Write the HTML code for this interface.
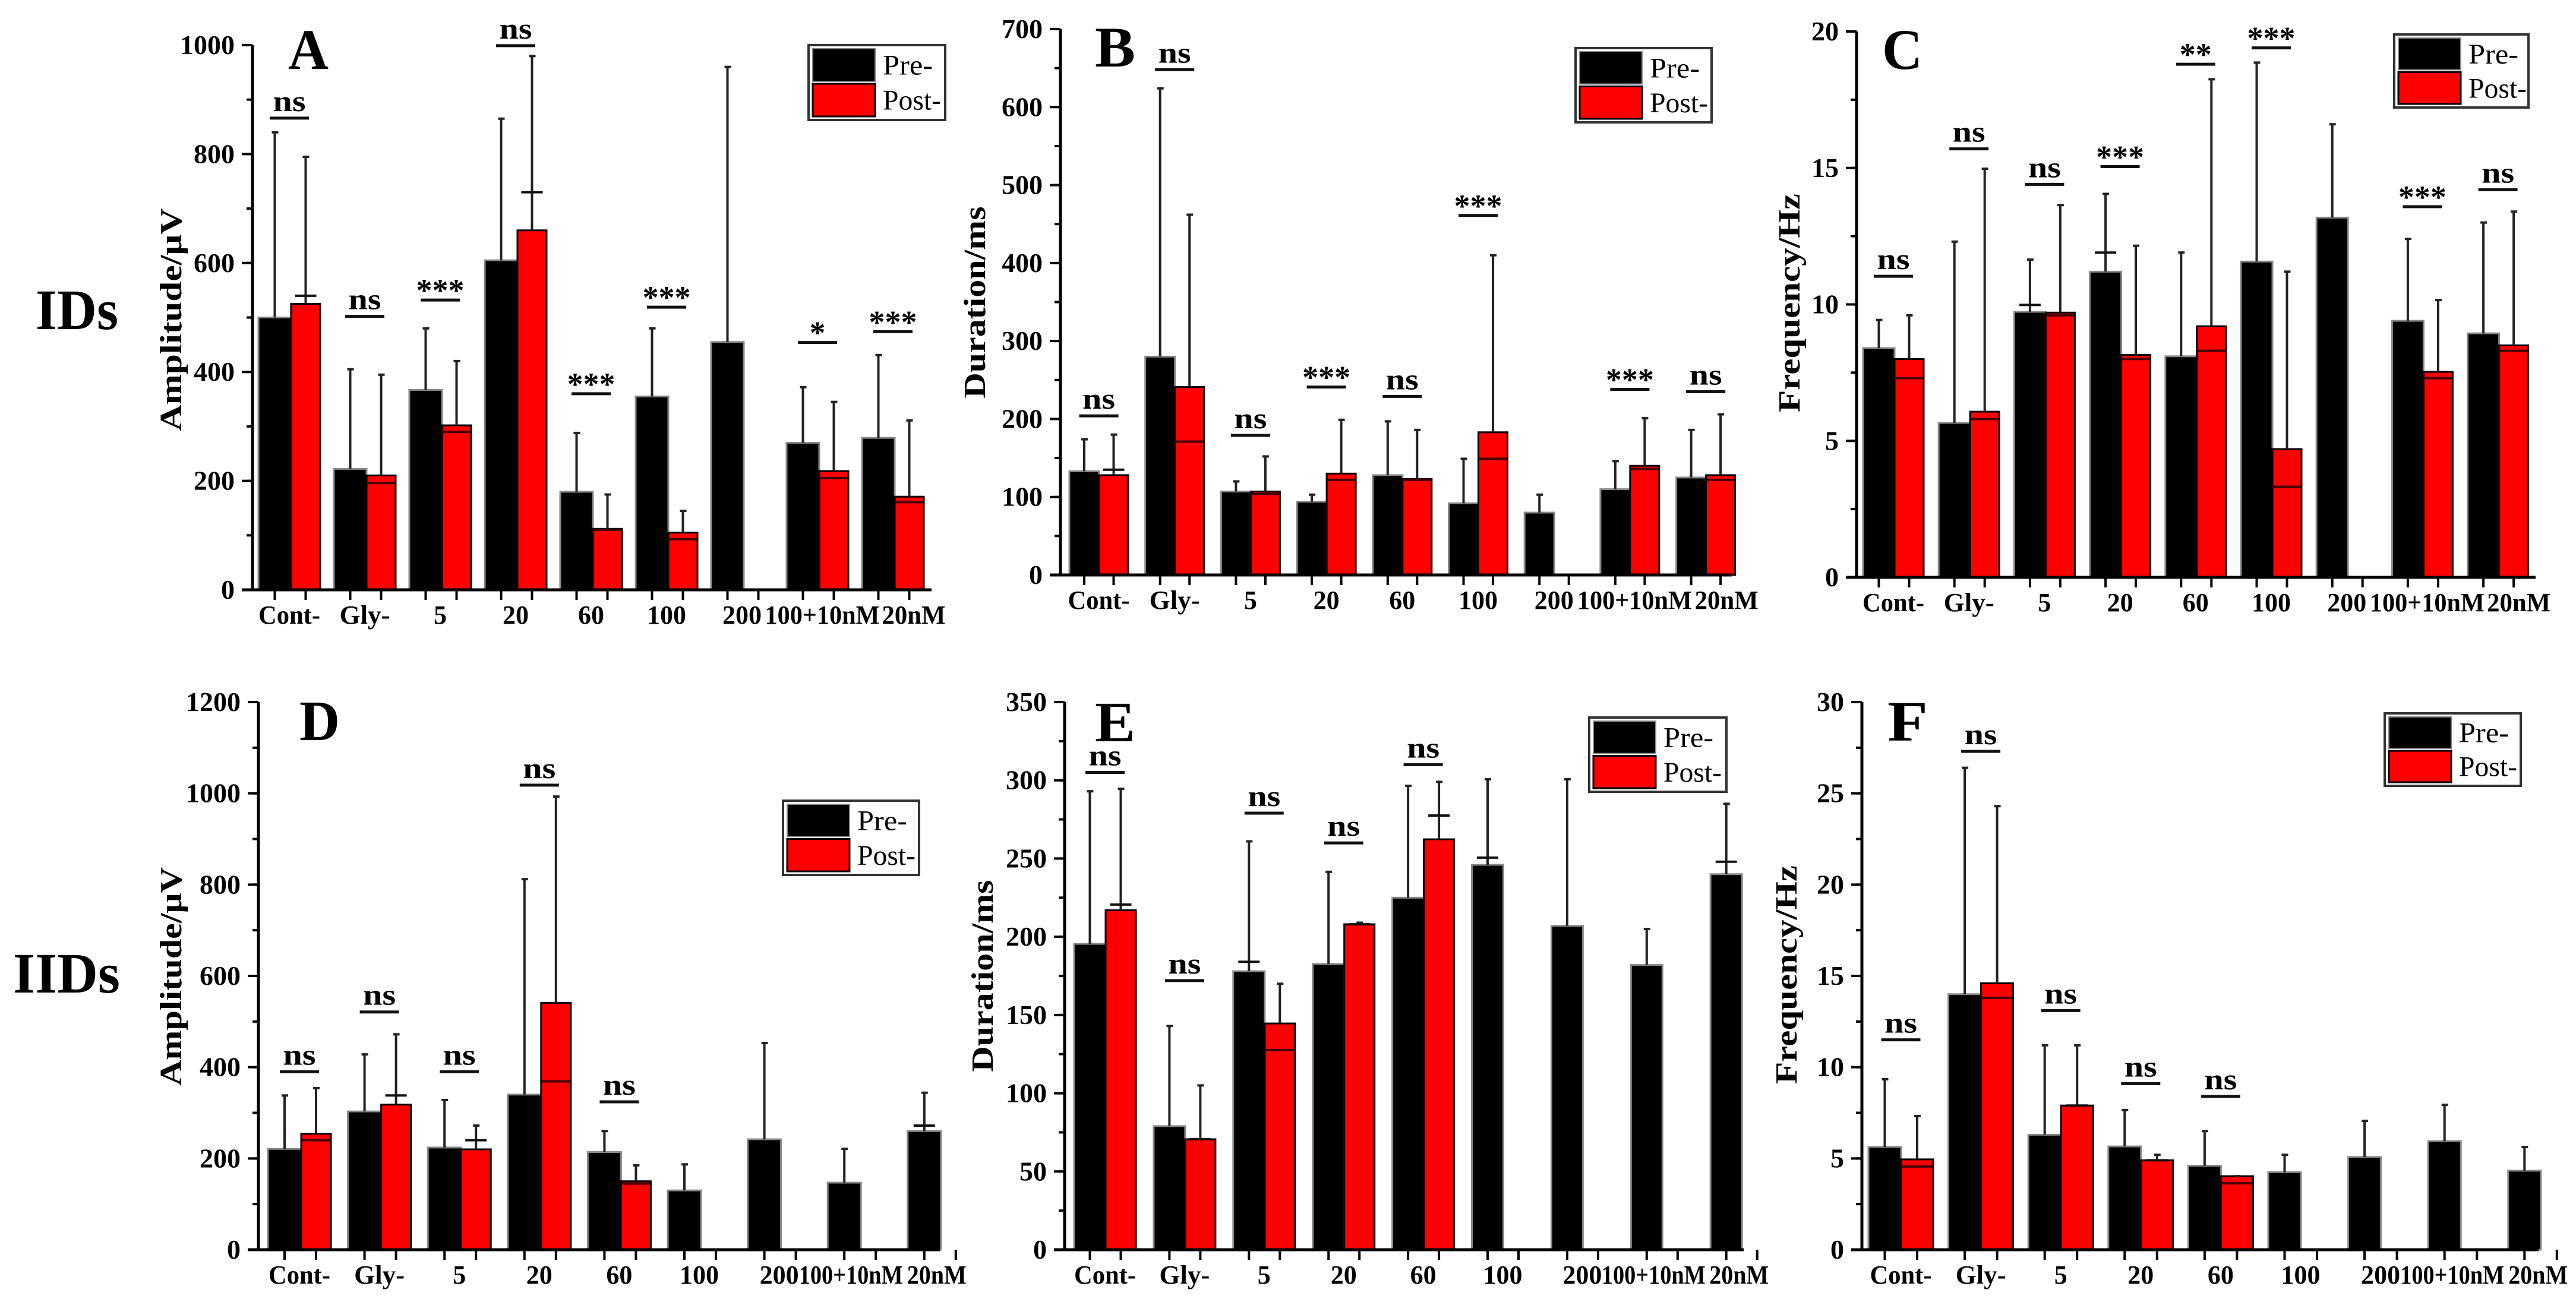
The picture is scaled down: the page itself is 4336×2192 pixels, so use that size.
<!DOCTYPE html>
<html><head><meta charset="utf-8">
<style>
html,body{margin:0;padding:0;background:#fff;}
svg{display:block;}
text{font-family:"Liberation Serif","Times New Roman",serif;font-weight:bold;fill:#000;}
</style></head>
<body>
<svg id="fig" width="4336" height="2192" viewBox="0 0 4336 2192" xmlns="http://www.w3.org/2000/svg">
<text x="60" y="554" font-size="96" textLength="139" lengthAdjust="spacingAndGlyphs">IDs</text>
<text x="22" y="1671" font-size="96" textLength="180" lengthAdjust="spacingAndGlyphs">IIDs</text>
</svg>
<script>
const categories = ["Cont-","Gly-","5","20","60","100","200","100+10nM","20nM"];

// Panel A: Amplitude IDs
const preA = [500,222,367,605,180,355,455,270,279];
const preErrA = [840,405,480,865,288,480,960,372,431];
const postA = [525,210,302,660,112,105,null,218,171];
const postErrA = [795,395,420,980,175,145,null,345,311];
const postMarkA = [540,196,290,730,110,93,null,205,161];
const preMarkA = [null,null,null,null,null,null,null,null,null];
const sigA = ["ns","ns","***","ns","***","***","","*","***"];
const sigYA = [866,502,532,999,360,519,null,454,474];
const ticksA = [0,200,400,600,800,1000];

// Panel B: Duration IDs
const preB = [133,280,107,94,128,92,80,110,125];
const preErrB = [174,624,120,103,197,149,103,146,186];
const postB = [128,241,107,130,123,183,null,140,128];
const postErrB = [180,462,152,199,186,410,null,201,206];
const postMarkB = [135,171,104,122,122,149,null,136,122];
const preMarkB = [null,null,null,null,null,null,null,null,null];
const sigB = ["ns","ns","ns","***","ns","***","","***","ns"];
const sigYB = [204,648,179,241,229,461,null,238,235];
const ticksB = [0,100,200,300,400,500,600,700];

// Panel C: Frequency IDs
const preC = [8.4,5.66,9.73,11.2,8.1,11.57,13.18,9.4,8.94];
const preErrC = [9.43,12.3,11.64,14.05,11.9,18.86,16.6,12.4,13.0];
const postC = [8.0,6.07,9.7,8.15,9.2,4.7,null,7.53,8.5];
const postErrC = [9.6,14.97,13.64,12.15,18.25,11.2,null,10.16,13.4];
const postMarkC = [7.3,5.8,9.6,8.0,8.3,3.32,null,7.3,8.3];
const preMarkC = [null,null,9.98,11.9,null,null,null,null,null];
const sigC = ["ns","ns","ns","***","**","***","","***","ns"];
const sigYC = [11.03,15.7,14.4,15.05,18.8,19.4,null,13.58,14.2];
const ticksC = [0,5,10,15,20];

// Panel D: Amplitude IIDs
const preD = [221,303,224,340,214,130,242,147,260];
const preErrD = [338,428,328,812,260,187,453,221,344];
const postD = [254,318,220,541,150,null,null,null,null];
const postErrD = [354,472,272,993,185,null,null,null,null];
const postMarkD = [240,338,240,369,145,null,null,null,null];
const preMarkD = [null,null,null,null,null,null,null,null,272];
const sigD = ["ns","ns","ns","ns","ns","","","",""];
const sigYD = [390,521,390,1018,324,null,null,null,null];
const ticksD = [0,200,400,600,800,1000,1200];

// Panel E: Duration IIDs
const preE = [195.5,79,178,182.6,225,246,207,182,240];
const preErrE = [293,143,261,241.5,296.5,300.7,300.7,205,285];
const postE = [217,70.6,144.6,208,262.3,null,null,null,null];
const postErrE = [294.6,105,170,209,299,null,null,null,null];
const postMarkE = [220.6,70.6,127.6,208,277.5,null,null,null,null];
const preMarkE = [null,null,184,null,null,250.6,null,null,248];
const sigE = ["ns","ns","ns","ns","ns","","","",""];
const sigYE = [305,172,279,260,310,null,null,null,null];
const ticksE = [0,50,100,150,200,250,300,350];

// Panel F: Frequency IIDs
const preF = [5.63,14.0,6.3,5.66,4.6,4.25,5.08,5.95,4.33];
const preErrF = [9.34,26.4,11.2,7.65,6.5,5.2,7.06,7.94,5.63];
const postF = [4.95,14.6,7.9,4.9,4.03,null,null,null,null];
const postErrF = [7.32,24.3,11.2,5.2,4.03,null,null,null,null];
const postMarkF = [4.56,13.8,7.9,4.9,3.64,null,null,null,null];
const preMarkF = [null,null,null,null,null,null,null,null,null];
const sigF = ["ns","ns","ns","ns","ns","","","",""];
const sigYF = [11.5,27.3,13.1,9.1,8.4,null,null,null,null];
const ticksF = [0,5,10,15,20,25,30];

const NS = "http://www.w3.org/2000/svg";
const svg = document.getElementById("fig");
function mk(tag, attrs, parent){
  const e = document.createElementNS(NS, tag);
  for (const k in attrs) e.setAttribute(k, attrs[k]);
  (parent||svg).appendChild(e);
  return e;
}
function labelWidth(s, top){
  const w = {"Cont-":104,"Gly-":85,"100+10nM":top?193:175,"20nM":top?107:100};
  if (w[s]) return w[s];
  return s.length * 22;
}

const panels = [
 {id:"a",letter:"A",title:"Amplitude/μV",tl:375,ax:425,y0:993,yT:76,max:1000,minor:100,ticks:ticksA,bx:435,step:127,bw:55,rw:49,xEnd:1568,top:true,
  pre:preA,preErr:preErrA,post:postA,postErr:postErrA,postMark:postMarkA,preMark:preMarkA,sig:sigA,sigY:sigYA,
  lx:485,ly:116,tx:287,ty:538,leg:[1361,76,230,126]},
 {id:"b",letter:"B",title:"Duration/ms",tl:323,ax:1785,y0:968,yT:49,max:700,minor:50,ticks:ticksB,bx:1800,step:127.7,bw:50,rw:49,xEnd:2915,top:true,
  pre:preB,preErr:preErrB,post:postB,postErr:postErrB,postMark:postMarkB,preMark:preMarkB,sig:sigB,sigY:sigYB,
  lx:1843,ly:112,tx:1640,ty:509,leg:[2652,81,229,125]},
 {id:"c",letter:"C",title:"Frequency/Hz",tl:368,ax:3125,y0:972,yT:53,max:20,minor:2.5,ticks:ticksC,bx:3136,step:127.2,bw:53,rw:49,xEnd:4268,top:true,
  pre:preC,preErr:preErrC,post:postC,postErr:postErrC,postMark:postMarkC,preMark:preMarkC,sig:sigC,sigY:sigYC,
  lx:3168,ly:116,tx:3011,ty:510,leg:[4030,58,226,123]},
 {id:"d",letter:"D",title:"Amplitude/μV",tl:368,ax:435,y0:2104,yT:1182,max:1200,minor:100,ticks:ticksD,bx:451,step:134.6,bw:56,rw:50,xEnd:1582,top:false,
  pre:preD,preErr:preErrD,post:postD,postErr:postErrD,postMark:postMarkD,preMark:preMarkD,sig:sigD,sigY:sigYD,
  lx:504,ly:1246,tx:287,ty:1644,leg:[1318,1348,229,125]},
 {id:"e",letter:"E",title:"Duration/ms",tl:323,ax:1792,y0:2104,yT:1182,max:350,minor:25,ticks:ticksE,bx:1808,step:133.9,bw:53,rw:51,xEnd:2935,top:false,
  pre:preE,preErr:preErrE,post:postE,postErr:postErrE,postMark:postMarkE,preMark:preMarkE,sig:sigE,sigY:sigYE,
  lx:1843,ly:1248,tx:1653,ty:1643,leg:[2675,1208,231,125]},
 {id:"f",letter:"F",title:"Frequency/Hz",tl:368,ax:3134,y0:2104,yT:1182,max:30,minor:2.5,ticks:ticksF,bx:3145,step:134.6,bw:55,rw:54,xEnd:4273,top:false,
  pre:preF,preErr:preErrF,post:postF,postErr:postErrF,postMark:postMarkF,preMark:preMarkF,sig:sigF,sigY:sigYF,
  lx:3177,ly:1247,tx:3006,ty:1641,leg:[4014,1201,229,122]}
];

panels.forEach(p => {
  const g = mk("g", {});
  
  
  const Y = v => p.y0 - (v / p.max) * (p.y0 - p.yT);
  const preX = i => p.bx + i * p.step;
  const postX = i => p.bx + i * p.step + p.bw;

  categories.forEach((c, i) => {
    if (p.pre[i] != null) {
      const r = mk("rect", {x:preX(i), y:Y(p.pre[i]), width:p.bw, height:p.y0 - Y(p.pre[i]), fill:"#000", stroke:"#888", "stroke-width":3}, g);
      
      
      const cx = preX(i) + p.bw/2;
      const e = mk("line", {x1:cx, x2:cx, y1:Y(p.pre[i]), y2:Y(p.preErr[i]), stroke:"#222", "stroke-width":4}, g);
      
      
      mk("line", {x1:cx-5, x2:cx+6, y1:Y(p.preErr[i]), y2:Y(p.preErr[i]), stroke:"#222", "stroke-width":4}, g);
      if (p.preMark[i] != null) {
        mk("line", {x1:cx-18, x2:cx+18, y1:Y(p.preMark[i]), y2:Y(p.preMark[i]), stroke:"#111", "stroke-width":4}, g);
      }
    }
    if (p.post[i] != null) {
      const r = mk("rect", {x:postX(i), y:Y(p.post[i]), width:p.rw, height:p.y0 - Y(p.post[i]), fill:"#f00", stroke:"#000", "stroke-width":3}, g);
      
      
      const cx = postX(i) + p.rw/2;
      const e = mk("line", {x1:cx, x2:cx, y1:Y(p.post[i]), y2:Y(p.postErr[i]), stroke:"#222", "stroke-width":4}, g);
      
      
      mk("line", {x1:cx-5, x2:cx+6, y1:Y(p.postErr[i]), y2:Y(p.postErr[i]), stroke:"#222", "stroke-width":4}, g);
      if (p.postMark[i] != null) {
        const m = p.postMark[i];
        const inside = m < p.post[i];
        mk("line", {x1:inside ? postX(i) : cx-18, x2:inside ? postX(i)+p.rw : cx+18, y1:Y(m), y2:Y(m), stroke:inside ? "#400" : "#111", "stroke-width":4}, g);
      }
    }
    if (p.sig[i]) {
      const gc = preX(i) + (p.bw + p.rw)/2;
      const sl = mk("line", {x1:gc-33, x2:gc+33, y1:Y(p.sigY[i]), y2:Y(p.sigY[i]), stroke:"#111", "stroke-width":5}, g);
      
      
      const isNs = p.sig[i] === "ns";
      const st = mk("text", {x:gc, y:Y(p.sigY[i]) - (isNs ? 12 : -2), "font-size":isNs?50:54, "text-anchor":"middle",
        textLength: isNs ? 55 : p.sig[i].length * 27, lengthAdjust:"spacingAndGlyphs"}, g);
      st.textContent = p.sig[i];
      
      
    }
    mk("line", {x1:preX(i)+p.bw/2, x2:preX(i)+p.bw/2, y1:p.y0, y2:p.y0+17, stroke:"#000", "stroke-width":4}, g);
    mk("line", {x1:postX(i)+p.rw/2, x2:postX(i)+p.rw/2, y1:p.y0, y2:p.y0+17, stroke:"#000", "stroke-width":4}, g);
    let off = 0;
    if (p.top) { off = c === "20nM" ? 35 : (c === "100+10nM" ? 8 : 0); }
    else { off = c === "20nM" ? -4 : (c === "100+10nM" ? -14 : 0); }
    const lt = mk("text", {x:preX(i) + (p.bw+p.rw)/2 + off, y:p.y0 + 57, "font-size":44, "text-anchor":"middle",
      textLength:labelWidth(c, p.top), lengthAdjust:"spacingAndGlyphs"}, g);
    lt.textContent = c;
    
    
  });

  const ya = mk("line", {x1:p.ax, x2:p.ax, y1:p.yT, y2:p.y0+2, stroke:"#000", "stroke-width":5}, g);
  
  
  const xa = mk("line", {x1:p.ax-18, x2:p.xEnd, y1:p.y0, y2:p.y0, stroke:"#000", "stroke-width":5}, g);
  
  
  for (let v = 0; v <= p.max + 1e-9; v += p.minor) {
    mk("line", {x1:p.ax-10, x2:p.ax, y1:Y(v), y2:Y(v), stroke:"#000", "stroke-width":4}, g);
  }
  p.ticks.forEach(v => {
    mk("line", {x1:p.ax-18, x2:p.ax, y1:Y(v), y2:Y(v), stroke:"#000", "stroke-width":4}, g);
    const s = String(v);
    const t = mk("text", {x:p.ax-30, y:Y(v)+15, "font-size":46, "text-anchor":"end",
      textLength:s.length * 23, lengthAdjust:"spacingAndGlyphs"}, g);
    t.textContent = s;
    
    
  });

  const yt = mk("text", {x:p.tx, y:p.ty, "font-size":52, "text-anchor":"middle", transform:"rotate(-90 "+p.tx+" "+p.ty+")", dy:"18",
    textLength:p.tl, lengthAdjust:"spacingAndGlyphs"}, g);
  yt.textContent = p.title;
  
  
  const pl = mk("text", {x:p.lx, y:p.ly, "font-size":96, textLength:68, lengthAdjust:"spacingAndGlyphs"}, g);
  pl.textContent = p.letter;
  
  

  const [lx, ly, lw, lh] = p.leg;
  const lg = mk("g", {}, g);
  
  
  mk("rect", {x:lx, y:ly, width:lw, height:lh, fill:"#fff", stroke:"#333", "stroke-width":4}, lg);
  const sw = 105, sh = (lh - 16) / 2;
  mk("rect", {x:lx+7, y:ly+6, width:sw, height:sh, fill:"#000", stroke:"#888", "stroke-width":2}, lg);
  mk("rect", {x:lx+7, y:ly+10+sh, width:sw, height:sh, fill:"#f00", stroke:"#000", "stroke-width":3}, lg);
  const t1 = mk("text", {x:lx+sw+20, y:ly+6+sh/2+16, "font-size":48, style:"font-weight:normal", textLength:84, lengthAdjust:"spacingAndGlyphs"}, lg);
  t1.textContent = "Pre-";
  
  
  const t2 = mk("text", {x:lx+sw+20, y:ly+10+sh*1.5+16, "font-size":48, style:"font-weight:normal", textLength:98, lengthAdjust:"spacingAndGlyphs"}, lg);
  t2.textContent = "Post-";
  
  
});
</script>
</body></html>
